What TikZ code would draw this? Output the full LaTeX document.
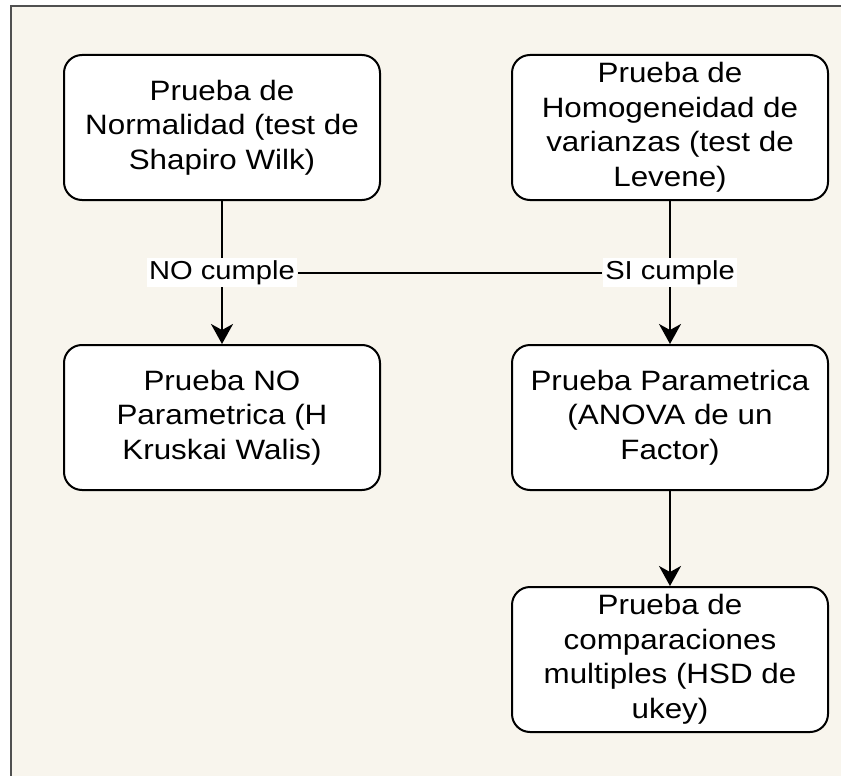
\documentclass[tikz,border=0pt]{standalone}
\usepackage{fontspec}
\setmainfont{Liberation Sans}[FakeStretch=1.12]
\usetikzlibrary{arrows.meta}
\definecolor{papel}{HTML}{F8F5ED}
\definecolor{marco}{HTML}{505050}
\tikzset{
  caja/.style={draw, rounded corners=18pt, line width=2pt, fill=white,
    minimum width=316pt, minimum height=145pt, align=center, inner sep=0pt,
    font=\fontsize{28}{34.5}\selectfont},
  etiq/.style={fill=white, inner sep=2.5pt, font=\fontsize{26}{30}\selectfont},
  flecha/.style={line width=2pt, -{Stealth[length=20pt,width=22pt,inset=6pt]}}
}
\begin{document}
\begin{tikzpicture}[x=1pt,y=-1pt]
    \useasboundingbox (0,0) rectangle (841,776);
    \fill[white] (0,0) rectangle (841,776);
    \draw[marco, line width=2.5pt, fill=papel] (11,6) rectangle (870,800);

    \node[caja] (normal)  at (222,127.5) {Prueba de\\Normalidad (test de\\Shapiro Wilk)};
    \node[caja] (homog)   at (670,127.5) {Prueba de\\Homogeneidad de\\varianzas (test de\\Levene)};
    \node[caja] (noparam) at (222,417.5) {Prueba NO\\Parametrica (H\\Kruskai Walis)};
    \node[caja] (param)   at (670,417.5) {Prueba Parametrica\\(ANOVA de un\\Factor)};
    \node[caja] (tukey)   at (670,659.5) {Prueba de\\comparaciones\\multiples (HSD de\\ukey)};

    \draw[flecha] (normal) -- (noparam) node[etiq, midway] (no) {NO cumple};
    \draw[flecha] (homog) -- (param) node[etiq, midway] (si) {SI cumple};
    \draw[line width=2pt] (no) -- (si);
    \draw[flecha] (param) -- (tukey);
\end{tikzpicture}
\end{document}
